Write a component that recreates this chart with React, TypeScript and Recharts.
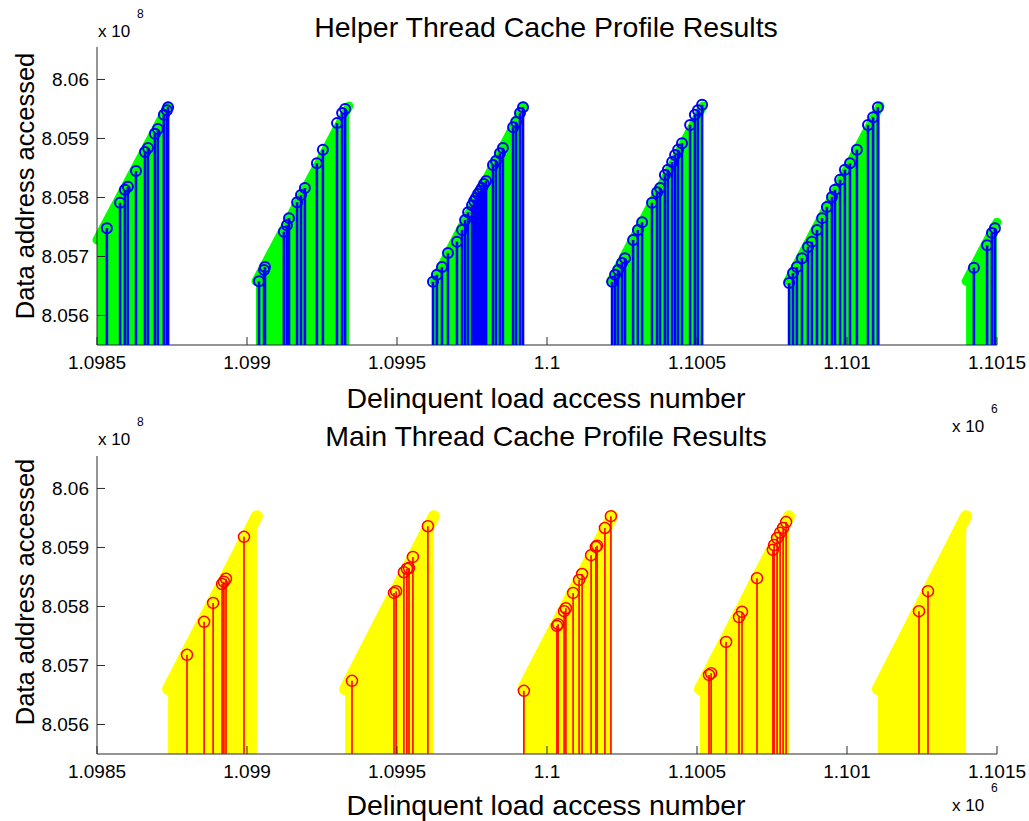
import React from 'react';
import { ComposedChart, Area, Scatter, XAxis, YAxis } from 'recharts';

const X_TICKS = [1098500, 1099000, 1099500, 1100000, 1100500, 1101000, 1101500];
const Y_TICKS = [805600000, 805700000, 805800000, 805900000, 806000000];

// helper thread bursts (dense green stems drawn as a filled ramp)
const helperRampStart = [1098500, 1099030, 1099623, 1100213, 1100803, 1101397];
const helperRampEnd = [1098737, 1099340, 1099923, 1100520, 1101110, 1101500];
const helperRampLow = [805728000, 805658000, 805658000, 805658000, 805658000, 805658000];
const helperRampHigh = [805955000, 805955000, 805955000, 805955000, 805955000, 805758000];

// helper thread delinquent loads (blue stems)
const helperStemX = [
  1098533, 1098577, 1098593, 1098603, 1098630, 1098660, 1098670, 1098693, 1098703, 1098723, 1098733, 1098737,
  1099040, 1099057, 1099060, 1099123, 1099133, 1099140, 1099167, 1099180, 1099193, 1099233, 1099253, 1099300, 1099317, 1099327,
  1099620, 1099633, 1099650, 1099670, 1099700, 1099717, 1099727, 1099737, 1099750, 1099757, 1099763, 1099770, 1099777, 1099783,
  1099790, 1099797, 1099820, 1099830, 1099843, 1099853, 1099887, 1099897, 1099910, 1099920,
  1100217, 1100227, 1100237, 1100250, 1100260, 1100287, 1100303, 1100317, 1100350, 1100367, 1100377, 1100393, 1100403,
  1100417, 1100427, 1100437, 1100450, 1100477, 1100493, 1100503, 1100517,
  1100807, 1100820, 1100833, 1100850, 1100870, 1100883, 1100900, 1100917, 1100933, 1100950, 1100960, 1100977, 1100993,
  1101010, 1101033, 1101070, 1101087, 1101103,
  1101423, 1101467, 1101483, 1101493,
];
const helperStemY = [
  805748000, 805791000, 805813000, 805818000, 805845000, 805877000, 805884000, 805908000, 805916000, 805940000, 805948000, 805953000,
  805658000, 805677000, 805682000, 805742000, 805753000, 805765000, 805792000, 805804000, 805816000, 805858000, 805881000, 805926000, 805943000, 805950000,
  805657000, 805669000, 805682000, 805706000, 805725000, 805745000, 805762000, 805775000, 805787000, 805794000, 805799000, 805806000, 805811000, 805816000,
  805823000, 805828000, 805855000, 805862000, 805875000, 805884000, 805919000, 805928000, 805943000, 805953000,
  805657000, 805669000, 805677000, 805689000, 805697000, 805728000, 805745000, 805758000, 805791000, 805809000, 805816000, 805838000, 805847000,
  805860000, 805872000, 805881000, 805892000, 805923000, 805940000, 805948000, 805957000,
  805655000, 805672000, 805682000, 805697000, 805716000, 805725000, 805745000, 805765000, 805784000, 805801000, 805813000, 805830000, 805847000,
  805858000, 805881000, 805923000, 805936000, 805953000,
  805681000, 805719000, 805740000, 805748000,
];

// main thread bursts (yellow ramps)
const mainRampStart = [1098737, 1099327, 1099920, 1100510, 1101103];
const mainRampEnd = [1099033, 1099623, 1100217, 1100807, 1101397];
const mainRampLow = [805660000, 805660000, 805660000, 805660000, 805660000];
const mainRampHigh = [805953000, 805953000, 805953000, 805953000, 805953000];

// main thread delinquent loads (red stems)
const mainStemX = [
  1098800, 1098857, 1098887, 1098917, 1098923, 1098930, 1098990,
  1099350, 1099490, 1099497, 1099523, 1099533, 1099540, 1099553, 1099603,
  1099923, 1100033, 1100037, 1100057, 1100063, 1100087, 1100107, 1100117, 1100147, 1100163, 1100167, 1100193, 1100213,
  1100540, 1100547, 1100597, 1100640, 1100650, 1100700, 1100753, 1100757, 1100767, 1100777, 1100787, 1100797,
  1101240, 1101270,
];
const mainStemY = [
  805718000, 805774000, 805806000, 805838000, 805842000, 805847000, 805918000,
  805674000, 805823000, 805826000, 805858000, 805864000, 805865000, 805884000, 805936000,
  805657000, 805767000, 805770000, 805792000, 805797000, 805823000, 805845000, 805855000, 805887000, 805901000, 805903000, 805933000, 805953000,
  805684000, 805687000, 805740000, 805782000, 805791000, 805848000, 805896000, 805904000, 805916000, 805925000, 805933000, 805943000,
  805792000, 805826000,
];

const FONT = '"Liberation Sans", Arial, Helvetica, sans-serif';
const AXIS = '#2b2b2b';
const TICK_LEN = 8;

const fmtX = (v: number) => String(Number((v / 1e6).toFixed(4)));
const fmtY = (v: number) => String(Number((v / 1e8).toFixed(3)));

const XTick = (props: any) => {
  const { x, y, payload } = props;
  return (
    <g>
      <line x1={x} y1={y} x2={x} y2={y - TICK_LEN} stroke={AXIS} strokeWidth={1} />
      <text x={x} y={y + 24} textAnchor="middle" fontSize={19} fontFamily={FONT} fill="#000">
        {fmtX(payload.value)}
      </text>
    </g>
  );
};

const YTick = (props: any) => {
  const { x, y, payload } = props;
  return (
    <g>
      <line x1={x} y1={y} x2={x + TICK_LEN} y2={y} stroke={AXIS} strokeWidth={1} />
      <text x={x - 8} y={y + 7} textAnchor="end" fontSize={19} fontFamily={FONT} fill="#000">
        {fmtY(payload.value)}
      </text>
    </g>
  );
};

const stemShape = (color: string, r: number, lw: number, cw: number, base: number) => (p: any) => (
  <g>
    <line x1={p.cx} y1={p.cy} x2={p.cx} y2={base} stroke={color} strokeWidth={lw} />
    <circle cx={p.cx} cy={p.cy} r={r} fill="none" stroke={color} strokeWidth={cw} />
  </g>
);

const ramps = (start: number[], end: number[], low: number[], high: number[]) =>
  start.map((s, i) => [
    { x: s, y: low[i] },
    { x: end[i], y: high[i] },
  ]);

const stems = (xs: number[], ys: number[]) => xs.map((x, i) => ({ x, y: ys[i] }));

type PanelProps = {
  top: number;
  height: number;
  marginTop: number;
  axisHeight: number;
  rampData: { x: number; y: number }[][];
  rampColor: string;
  rampWidth: number;
  stemData: { x: number; y: number }[];
  stemColor: string;
  stemWidth: number;
  circleWidth: number;
  radius: number;
};

const Panel = (p: PanelProps) => {
  const base = p.height - p.axisHeight;
  return (
    <div style={{ position: 'absolute', left: 0, top: p.top }}>
      <ComposedChart
        width={1029}
        height={p.height}
        margin={{ top: p.marginTop, right: 32, left: 0, bottom: 0 }}
      >
        <XAxis
          type="number"
          dataKey="x"
          domain={[1098500, 1101500]}
          ticks={X_TICKS}
          interval={0}
          height={p.axisHeight}
          tickSize={0}
          tickMargin={0}
          tickLine={false}
          tick={<XTick />}
          axisLine={{ stroke: AXIS, strokeWidth: 1 }}
        />
        <YAxis
          type="number"
          dataKey="y"
          domain={[805550000, 806055000]}
          ticks={Y_TICKS}
          interval={0}
          width={97}
          tickSize={0}
          tickMargin={0}
          tickLine={false}
          tick={<YTick />}
          axisLine={{ stroke: AXIS, strokeWidth: 1 }}
        />
        {p.rampData.map((d, i) => (
          <Area
            key={'ramp' + i}
            data={d}
            dataKey="y"
            type="linear"
            stroke={p.rampColor}
            strokeWidth={p.rampWidth}
            strokeLinecap="round"
            strokeLinejoin="round"
            fill={p.rampColor}
            fillOpacity={1}
            isAnimationActive={false}
            dot={false}
            activeDot={false}
          />
        ))}
        <Scatter
          data={p.stemData}
          dataKey="y"
          isAnimationActive={false}
          shape={stemShape(p.stemColor, p.radius, p.stemWidth, p.circleWidth, base)}
        />
      </ComposedChart>
    </div>
  );
};

const Multiplier = ({ x, y, exp }: { x: number; y: number; exp: string }) => (
  <>
    <text x={x} y={y} fontSize={17} fontFamily={FONT} fill="#000">x 10</text>
    <text x={x + 39} y={y - 19} fontSize={12} fontFamily={FONT} fill="#000">{exp}</text>
  </>
);

const TITLE = 28.5;
const YLAB = 25.5;

export default function App() {
  return (
    <div style={{ position: 'absolute', left: 0, top: 0, width: 1029, height: 821, background: '#fff', overflow: 'hidden' }}>
      <Panel
        top={0}
        height={430}
        marginTop={47}
        axisHeight={85}
        rampData={ramps(helperRampStart, helperRampEnd, helperRampLow, helperRampHigh)}
        rampColor="#00ff00"
        rampWidth={9}
        stemData={stems(helperStemX, helperStemY)}
        stemColor="#0000ff"
        stemWidth={2.6}
        circleWidth={2}
        radius={5}
      />
      <Panel
        top={410}
        height={411}
        marginTop={46}
        axisHeight={67}
        rampData={ramps(mainRampStart, mainRampEnd, mainRampLow, mainRampHigh)}
        rampColor="#ffff00"
        rampWidth={12}
        stemData={stems(mainStemX, mainStemY)}
        stemColor="#ff0000"
        stemWidth={1.6}
        circleWidth={1.5}
        radius={5.5}
      />
      <svg width={1029} height={821} style={{ position: 'absolute', left: 0, top: 0, pointerEvents: 'none' }}>
        <text x={546} y={37} textAnchor="middle" fontSize={TITLE} fontFamily={FONT} fill="#000">
          Helper Thread Cache Profile Results
        </text>
        <Multiplier x={98} y={37} exp="8" />
        <text transform="translate(34,186) rotate(-90)" textAnchor="middle" fontSize={YLAB} fontFamily={FONT} fill="#000">
          Data address accessed
        </text>
        <text x={546} y={408} textAnchor="middle" fontSize={TITLE} fontFamily={FONT} fill="#000">
          Delinquent load access number
        </text>
        <Multiplier x={952} y={432} exp="6" />

        <text x={546} y={446} textAnchor="middle" fontSize={TITLE} fontFamily={FONT} fill="#000">
          Main Thread Cache Profile Results
        </text>
        <Multiplier x={98} y={445} exp="8" />
        <text transform="translate(34,592) rotate(-90)" textAnchor="middle" fontSize={YLAB} fontFamily={FONT} fill="#000">
          Data address accessed
        </text>
        <text x={546} y={815} textAnchor="middle" fontSize={TITLE} fontFamily={FONT} fill="#000">
          Delinquent load access number
        </text>
        <Multiplier x={952} y={811} exp="6" />
      </svg>
    </div>
  );
}
